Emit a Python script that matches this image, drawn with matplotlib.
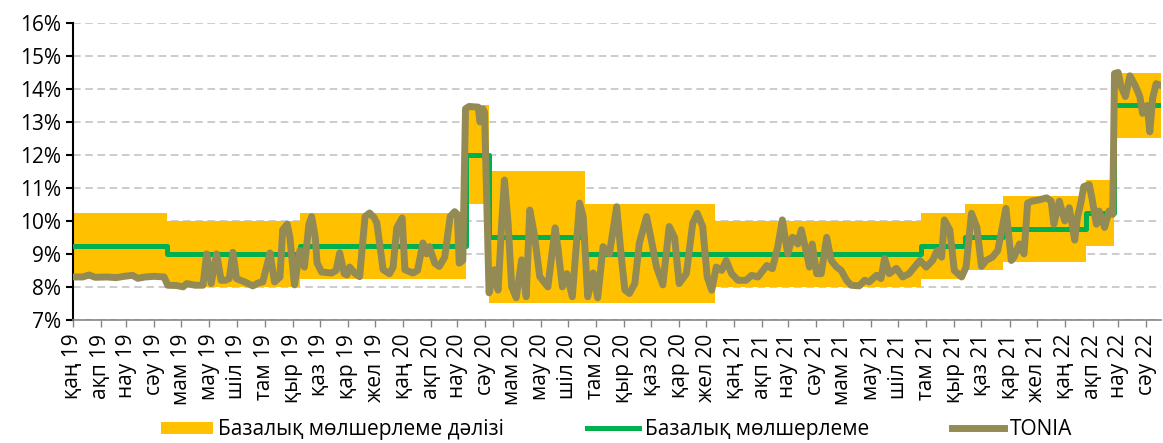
import datetime
import matplotlib
matplotlib.use("Agg")
import matplotlib.pyplot as plt
import matplotlib.dates as mdates
from matplotlib.lines import Line2D
from matplotlib.patches import Patch
from matplotlib.ticker import FuncFormatter, MultipleLocator

plt.rcParams['font.family'] = ['Open Sans', 'DejaVu Sans']

# Kazakh short month names for the x axis
months_kz = ["қаң", "ақп", "нау", "сәу", "мам", "мау", "шіл", "там", "қыр", "қаз", "қар", "жел"]

legend_labels = ["Базалық мөлшерлеме дәлізі", "Базалық мөлшерлеме", "TONIA"]

# Base rate decisions and the corridor around it (%)
rate_dates = ["2019-01-01", "2019-04-15", "2019-09-09", "2020-03-10", "2020-04-05", "2020-07-20",
              "2020-12-11", "2021-07-26", "2021-09-13", "2021-10-25", "2022-01-24", "2022-02-24",
              "2022-04-17"]
base_rate = [9.25, 9.0, 9.25, 12.0, 9.5, 9.0, 9.0, 9.25, 9.5, 9.75, 10.25, 13.5, 13.5]
corridor_low = [8.25, 8.0, 8.25, 10.5, 7.5, 7.5, 8.0, 8.25, 8.5, 8.75, 9.25, 12.5, 12.5]
corridor_high = [10.25, 10.0, 10.25, 13.5, 11.5, 10.5, 10.0, 10.25, 10.5, 10.75, 11.25, 14.5, 14.5]

# TONIA (%)
tonia_dates = [
    "2019-01-01", "2019-01-12", "2019-01-19", "2019-01-26", "2019-02-08", "2019-02-18", "2019-02-27",
    "2019-03-08", "2019-03-14", "2019-03-22", "2019-04-01", "2019-04-12", "2019-04-16", "2019-04-26",
    "2019-05-03", "2019-05-07", "2019-05-16", "2019-05-25", "2019-05-29", "2019-06-03", "2019-06-09",
    "2019-06-14", "2019-06-19", "2019-06-23", "2019-06-27", "2019-07-01", "2019-07-10", "2019-07-19",
    "2019-07-25", "2019-07-30", "2019-08-07", "2019-08-12", "2019-08-18", "2019-08-21", "2019-08-26",
    "2019-08-29", "2019-09-03", "2019-09-09", "2019-09-14", "2019-09-19", "2019-09-22", "2019-09-26",
    "2019-09-28", "2019-10-03", "2019-10-14", "2019-10-19", "2019-10-23", "2019-10-28", "2019-10-31",
    "2019-11-03", "2019-11-09", "2019-11-14", "2019-11-20", "2019-11-25", "2019-11-30", "2019-12-03",
    "2019-12-10", "2019-12-17", "2019-12-21", "2019-12-25", "2019-12-31", "2020-01-03", "2020-01-12",
    "2020-01-17", "2020-01-23", "2020-01-27", "2020-01-30", "2020-02-05", "2020-02-10", "2020-02-16",
    "2020-02-22", "2020-02-27", "2020-03-01", "2020-03-03", "2020-03-07", "2020-03-10", "2020-03-14",
    "2020-03-24", "2020-03-26", "2020-03-29", "2020-03-31", "2020-04-05", "2020-04-11", "2020-04-15",
    "2020-04-19", "2020-04-22", "2020-04-26", "2020-04-30", "2020-05-05", "2020-05-11", "2020-05-16",
    "2020-05-20", "2020-05-25", "2020-05-31", "2020-06-09", "2020-06-17", "2020-06-20", "2020-06-25",
    "2020-06-30", "2020-07-06", "2020-07-14", "2020-07-18", "2020-07-23", "2020-07-29", "2020-08-03",
    "2020-08-09", "2020-08-16", "2020-08-24", "2020-08-29", "2020-09-02", "2020-09-07", "2020-09-13",
    "2020-09-18", "2020-09-26", "2020-10-02", "2020-10-07", "2020-10-14", "2020-10-21", "2020-10-27",
    "2020-11-01", "2020-11-09", "2020-11-16", "2020-11-21", "2020-11-27", "2020-12-02", "2020-12-07",
    "2020-12-12", "2020-12-18", "2020-12-23", "2020-12-29", "2021-01-05", "2021-01-14", "2021-01-20",
    "2021-01-27", "2021-02-06", "2021-02-12", "2021-02-18", "2021-02-23", "2021-03-01", "2021-03-06",
    "2021-03-09", "2021-03-12", "2021-03-16", "2021-03-22", "2021-03-25", "2021-03-28", "2021-04-02",
    "2021-04-07", "2021-04-13", "2021-04-18", "2021-04-24", "2021-04-29", "2021-05-05", "2021-05-10",
    "2021-05-19", "2021-05-25", "2021-05-30", "2021-06-07", "2021-06-12", "2021-06-16", "2021-06-21",
    "2021-06-29", "2021-07-06", "2021-07-13", "2021-07-19", "2021-07-25", "2021-08-01", "2021-08-08",
    "2021-08-13", "2021-08-18", "2021-08-21", "2021-08-27", "2021-09-01", "2021-09-09", "2021-09-14",
    "2021-09-20", "2021-09-26", "2021-10-01", "2021-10-06", "2021-10-13", "2021-10-19", "2021-10-24",
    "2021-10-28", "2021-11-03", "2021-11-06", "2021-11-12", "2021-11-17", "2021-11-21", "2021-11-26",
    "2021-12-04", "2021-12-12", "2021-12-17", "2021-12-20", "2021-12-26", "2022-01-01", "2022-01-06",
    "2022-01-12", "2022-01-15", "2022-01-19", "2022-01-22", "2022-01-28", "2022-01-31", "2022-02-05",
    "2022-02-08", "2022-02-14", "2022-02-19", "2022-02-23", "2022-02-25", "2022-03-01", "2022-03-04",
    "2022-03-09", "2022-03-14", "2022-03-20", "2022-03-25", "2022-03-28", "2022-04-02", "2022-04-05",
    "2022-04-08", "2022-04-12", "2022-04-18",
]
tonia_values = [
    8.30, 8.30, 8.36, 8.29, 8.30, 8.28, 8.32,
    8.35, 8.26, 8.30, 8.32, 8.30, 8.05, 8.04,
    8.00, 8.10, 8.05, 8.05, 9.00, 8.10, 9.00,
    8.20, 8.20, 8.25, 9.05, 8.25, 8.15, 8.03,
    8.12, 8.15, 9.03, 8.15, 8.30, 9.73, 9.90,
    9.50, 8.06, 9.10, 8.60, 9.90, 10.13, 9.50,
    8.72, 8.45, 8.42, 8.50, 9.03, 8.40, 8.36,
    8.60, 8.40, 8.31, 10.13, 10.24, 10.10, 9.94,
    8.52, 8.40, 8.60, 9.79, 10.09, 8.52, 8.42,
    8.50, 9.33, 9.00, 9.22, 8.72, 8.62, 8.90,
    10.13, 10.28, 10.20, 8.72, 8.80, 13.40, 13.47,
    13.45, 13.00, 13.40, 13.30, 7.82, 8.52, 7.90,
    9.94, 11.24, 9.94, 8.00, 7.67, 8.82, 7.70,
    10.33, 9.60, 8.31, 8.00, 9.79, 9.20, 8.00,
    8.40, 7.70, 10.54, 10.13, 7.70, 8.42, 7.67,
    9.22, 9.00, 10.43, 8.94, 7.91, 7.80, 8.10,
    9.32, 10.13, 9.32, 8.60, 8.06, 9.83, 9.50,
    8.10, 8.40, 9.93, 10.23, 9.83, 8.30, 7.90,
    8.60, 8.50, 8.80, 8.40, 8.20, 8.20, 8.35,
    8.30, 8.65, 8.55, 9.22, 10.03, 9.00, 9.50,
    9.47, 9.30, 9.73, 9.00, 8.60, 9.30, 8.40,
    8.40, 9.50, 8.80, 8.60, 8.50, 8.20, 8.05,
    8.03, 8.20, 8.15, 8.35, 8.25, 8.86, 8.40,
    8.56, 8.30, 8.40, 8.60, 8.80, 8.60, 8.80,
    9.10, 8.90, 10.03, 9.73, 8.50, 8.30, 8.60,
    10.23, 9.80, 8.62, 8.80, 8.90, 9.10, 9.80,
    10.38, 8.80, 8.90, 9.30, 9.00, 10.54, 10.60,
    10.64, 10.70, 10.60, 9.90, 10.60, 10.00, 10.40,
    9.42, 10.10, 10.57, 11.04, 11.10, 10.70, 9.90,
    10.30, 9.80, 10.30, 10.20, 14.47, 14.50, 14.10,
    13.77, 14.40, 14.10, 13.77, 13.26, 13.50, 12.70,
    13.70, 14.16, 14.10,
]

CORRIDOR_COLOR = "#FFC000"
BASE_COLOR = "#00B050"
TONIA_COLOR = "#948A54"


def to_dates(strings: list[str]) -> list[datetime.datetime]:
    return [datetime.datetime.strptime(s, "%Y-%m-%d") for s in strings]


def month_label(x, _):
    d = mdates.num2date(x)
    return f"{months_kz[d.month - 1]} {d:%y}"


def main() -> None:
    fig, ax = plt.subplots(figsize=(11.63, 4.43), dpi=100)
    fig.subplots_adjust(left=0.0625, right=0.998, top=0.948, bottom=0.278)

    rd = to_dates(rate_dates)
    ax.fill_between(rd, corridor_low, corridor_high, step="post", color=CORRIDOR_COLOR,
                    linewidth=0, zorder=2)
    ax.plot(rd, base_rate, drawstyle="steps-post", color=BASE_COLOR, linewidth=3.6, zorder=3)
    ax.plot(to_dates(tonia_dates), tonia_values, color=TONIA_COLOR, linewidth=5, zorder=4,
            solid_joinstyle="round", solid_capstyle="round")

    # Axes, ticks and grid
    ax.set_ylim(7, 16)
    ax.set_xlim(datetime.datetime(2019, 1, 1), datetime.datetime(2022, 4, 17))
    ax.yaxis.set_major_locator(MultipleLocator(1))
    ax.yaxis.set_major_formatter(FuncFormatter(lambda v, _: f"{v:.0f}%"))
    ax.xaxis.set_major_locator(mdates.MonthLocator())
    ax.xaxis.set_major_formatter(FuncFormatter(month_label))

    ax.set_axisbelow(True)
    ax.grid(axis="y", color="#BFBFBF", linestyle=(0, (5, 3)), linewidth=1.1)

    ax.tick_params(axis="x", rotation=90, direction="out", length=5, width=1, color="#868686",
                   labelsize=15, pad=5)
    ax.tick_params(axis="y", direction="out", length=5, width=1.5, color="black", labelsize=15)

    for side in ("top", "right"):
        ax.spines[side].set_visible(False)
    ax.spines["left"].set_color("black")
    ax.spines["left"].set_linewidth(1.5)
    ax.spines["bottom"].set_color("#868686")
    ax.spines["bottom"].set_linewidth(1.2)

    handles = [
        Patch(facecolor=CORRIDOR_COLOR, edgecolor="none"),
        Line2D([], [], color=BASE_COLOR, linewidth=3.6),
        Line2D([], [], color=TONIA_COLOR, linewidth=5),
    ]
    fig.legend(handles, legend_labels, loc="center", bbox_to_anchor=(0.53, 0.03), ncol=3,
               frameon=False, fontsize=15, handlelength=2.5, handleheight=0.55,
               handletextpad=0.25, columnspacing=4.0, borderpad=0.1)

    fig.savefig("out.png", dpi=100)


if __name__ == "__main__":
    main()
